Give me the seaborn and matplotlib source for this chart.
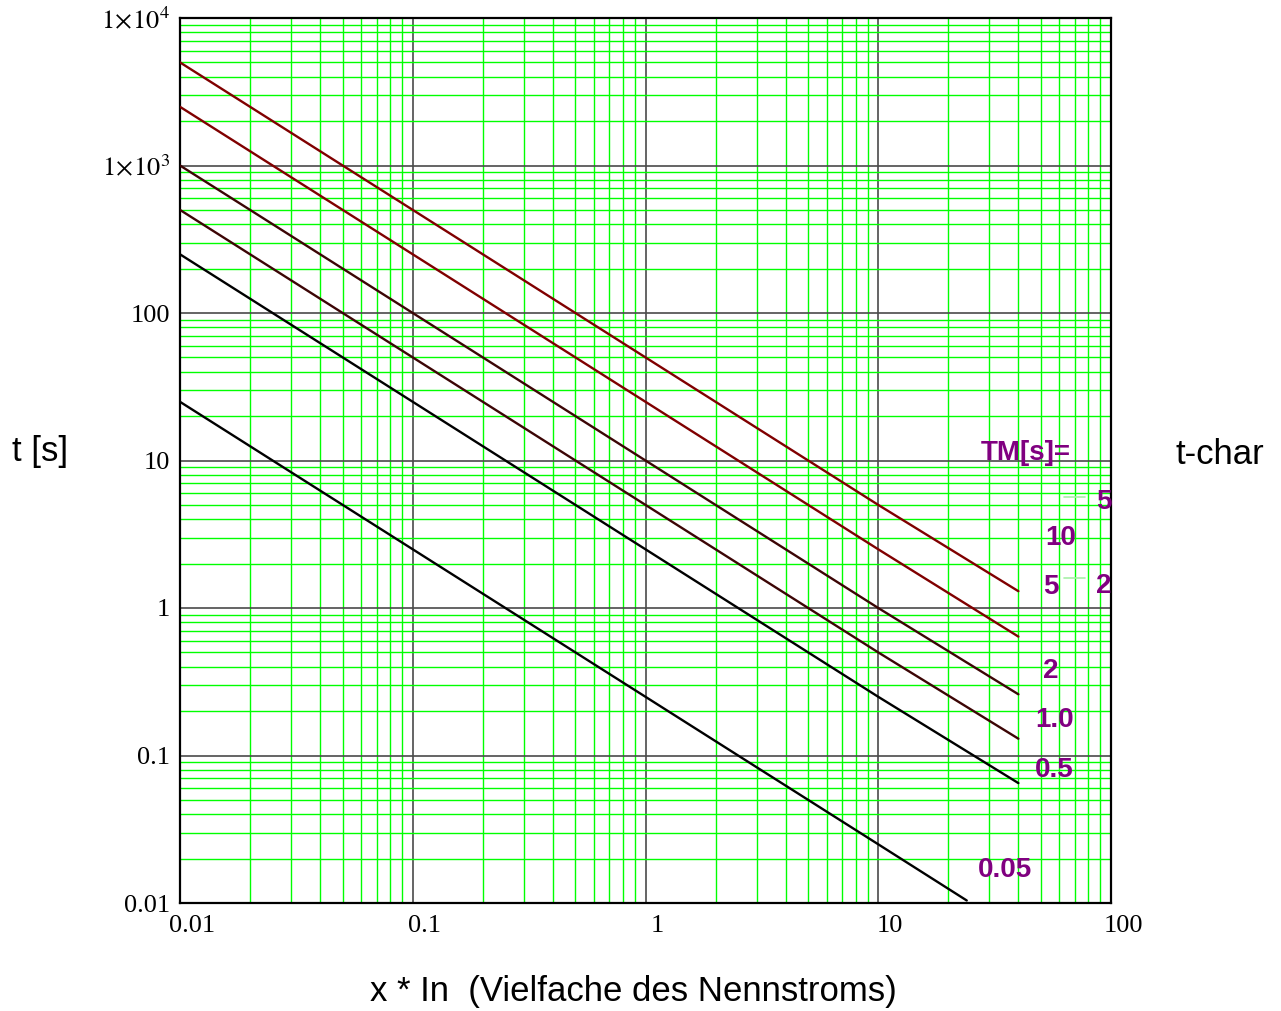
import matplotlib
matplotlib.use("Agg")
import matplotlib.pyplot as plt
import matplotlib.ticker as mticker
from matplotlib.transforms import ScaledTranslation
import numpy as np
import pandas as pd
import seaborn as sns


# values
tm_labels = ["10", "5", "2", "1.0", "0.5", "0.05"]
x_pts = [0.01, 0.1, 1, 10, 40]
t_tm10 = [5000, 500, 50, 5.0, 1.3]
t_tm5 = [2500, 250, 25, 2.5, 0.64]
t_tm2 = [1000, 100, 10, 1.0, 0.26]
t_tm1 = [500, 50, 5.0, 0.5, 0.13]
t_tm05 = [250, 25, 2.5, 0.25, 0.065]
x_tm005 = [0.01, 0.1, 1, 10, 24]
t_tm005 = [25, 2.5, 0.25, 0.025, 0.0104]

line_colors = ["#800000", "#800000", "#3c0505", "#3c0505", "#000000", "#000000"]

y_ticks = [0.01, 0.1, 1, 10, 100, 1000, 10000]
y_ticklabels = ["0.01", "0.1", "1", "10", "100", r"$1\!\times\!10^{3}$", r"$1\!\times\!10^{4}$"]
x_ticks = [0.01, 0.1, 1, 10, 100]
x_ticklabels = ["0.01", "0.1", "1", "10", "100"]

# label positions (data coords)
lbl_x = [61, 55, 55, 57, 57, 35]
lbl_y = [3.0, 1.39, 0.376, 0.174, 0.080, 0.0167]

#build long table for seaborn
rows = []
series = [t_tm10, t_tm5, t_tm2, t_tm1, t_tm05]
for lab, ys in zip(tm_labels[:5], series):
    for xv, yv in zip(x_pts, ys):
        rows.append({"x": xv, "t": yv, "TM": lab})
for xv, yv in zip(x_tm005, t_tm005):
    rows.append({"x": xv, "t": yv, "TM": "0.05"})
df = pd.DataFrame(rows)

sns.set_style("white")
plt.rcParams['font.family'] = ['Liberation Sans', 'DejaVu Sans']
plt.rcParams['mathtext.fontset'] = 'stix'
plt.rcParams['text.color'] = 'black'
plt.rcParams['xtick.color'] = 'black'
plt.rcParams['ytick.color'] = 'black'

fig = plt.figure(figsize=(12.81, 10.11), dpi=100)
ax = fig.add_axes([180/1281, 1 - 903/1011, (1111-180)/1281, (903-18)/1011])

sns.lineplot(data=df, x="x", y="t", hue="TM", palette=dict(zip(tm_labels, line_colors)),
             legend=False, estimator=None, sort=False, lw=1.7, ax=ax, zorder=5)

ax.set_xscale("log")
ax.set_yscale("log")
ax.set_xlim(0.01, 100)
ax.set_ylim(0.01, 10000)

ax.xaxis.set_minor_locator(mticker.LogLocator(base=10, subs=np.arange(2, 10), numticks=100))
ax.yaxis.set_minor_locator(mticker.LogLocator(base=10, subs=np.arange(2, 10), numticks=100))
ax.xaxis.set_minor_formatter(mticker.NullFormatter())
ax.yaxis.set_minor_formatter(mticker.NullFormatter())
ax.grid(which="minor", color="#00ff00", lw=1.0, zorder=1)
ax.grid(which="major", color="#4a4a4a", lw=1.2, zorder=2)
ax.set_axisbelow(True)

ax.set_xticks(x_ticks)
ax.set_xticklabels(x_ticklabels, family="Liberation Serif", fontsize=19)
ax.set_yticks(y_ticks)
ax.set_yticklabels(y_ticklabels, family="Liberation Serif", fontsize=19)
ax.tick_params(which="both", length=0)
ax.tick_params(axis="x", pad=9)
ax.tick_params(axis="y", pad=7)
for lab in ax.get_xticklabels():
    lab.set_transform(lab.get_transform() + ScaledTranslation(0.12, 0, fig.dpi_scale_trans))

for sp in ax.spines.values():
    sp.set_color("black")
    sp.set_linewidth(1.6)
ax.set_xlabel("")
ax.set_ylabel("")

# curve labels
purple = "#800080"
for lab, lx, ly in zip(tm_labels, lbl_x, lbl_y):
    ax.text(lx, ly, lab, color=purple, fontsize=20, fontweight="bold", ha="center", va="center", zorder=6)
ax.text(43, 11.3, "TM[s]=", color=purple, fontsize=20, fontweight="bold", ha="center", va="center", zorder=6)
ax.text(93, 5.2, "5", color=purple, fontsize=20, fontweight="bold", ha="center", va="center", zorder=6)
ax.text(93, 1.42, "2", color=purple, fontsize=20, fontweight="bold", ha="center", va="center", zorder=6)
ax.plot([63, 77], [5.7, 5.7], color="#a8f0a8", lw=1.2, zorder=4)
ax.plot([63, 77], [1.6, 1.6], color="#a8f0a8", lw=1.2, zorder=4)

fig.text(40/1281, 1 - 452/1011, "t [s]", fontsize=25, ha="center", va="center")
fig.text(1220/1281, 1 - 454/1011, "t-char", fontsize=25, ha="center", va="center")
fig.text(633/1281, 1 - 992/1011, "x * In  (Vielfache des Nennstroms)", fontsize=25, ha="center", va="center")

fig.savefig("out.png", dpi=100)
